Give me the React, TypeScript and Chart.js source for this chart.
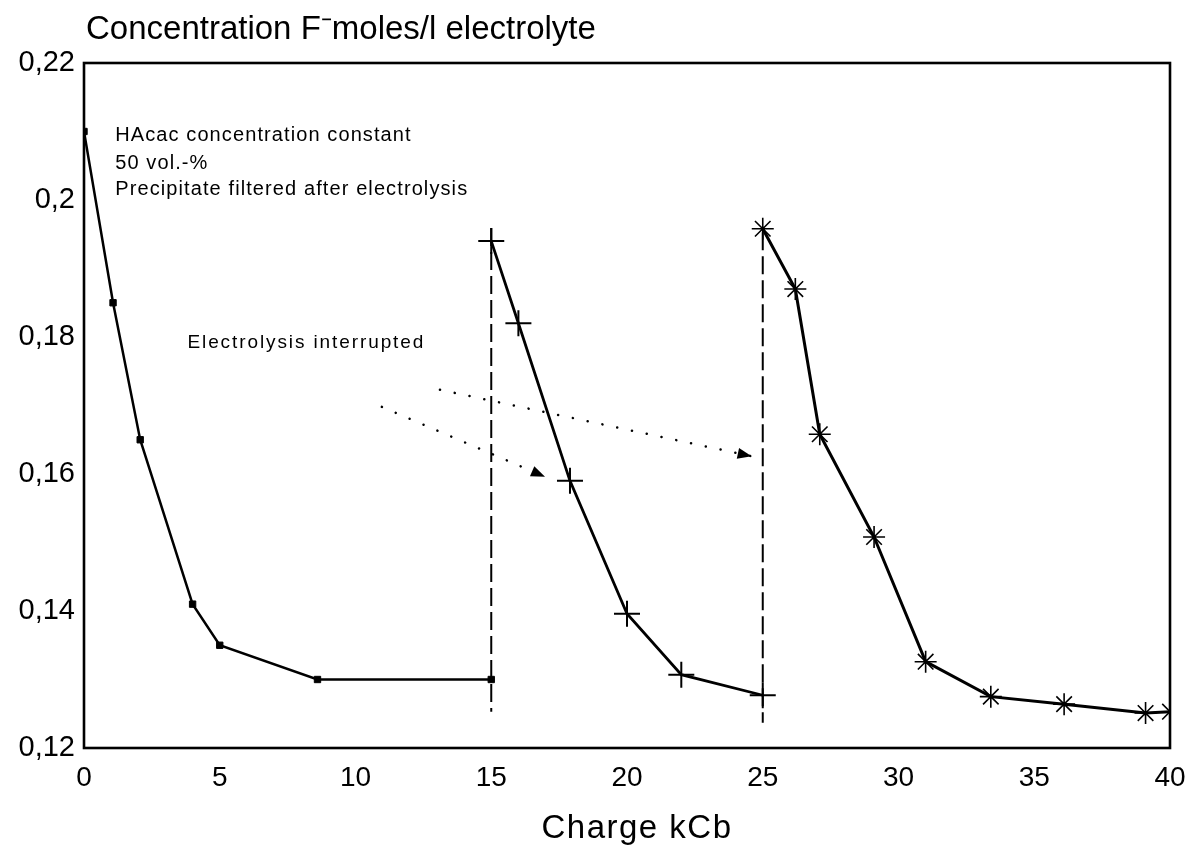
import React, { useEffect, useRef } from "react";
import { Chart, registerables } from "chart.js";

Chart.register(...registerables);

// ---- text ----
const chartTitle = "Concentration F\u207Bmoles/l electrolyte";
const xAxisTitle = "Charge kCb";
const noteLines = [
  "HAcac concentration constant",
  "50 vol.-%",
  "Precipitate filtered after electrolysis",
];
const arrowLabel = "Electrolysis interrupted";

// ---- axes ----
const xMin = 0;
const xMax = 40;
const xStep = 5;
const yMin = 0.12;
const yMax = 0.22;
const yStep = 0.02;

// ---- data: run 1 (squares) ----
const run1Charge = [0, 1.07, 2.07, 4.0, 5.0, 8.6, 15.0];
const run1Conc = [0.21, 0.185, 0.165, 0.141, 0.135, 0.13, 0.13];

// ---- data: run 2 (plus) ----
const run2Charge = [15.0, 16.0, 17.9, 20.0, 22.0, 25.0];
const run2Conc = [0.194, 0.182, 0.159, 0.1396, 0.1307, 0.1277];

// ---- data: run 3 (asterisk) ----
const run3Charge = [25.0, 26.2, 27.1, 29.1, 31.0, 33.4, 36.1, 39.1, 40.0];
const run3Conc = [0.1958, 0.187, 0.1658, 0.1508, 0.1326, 0.1275, 0.1264, 0.1251, 0.1253];

// ---- interruption markers (dashed verticals) ----
const interruptCharge = [15, 25];
const interruptTop = [0.1959, 0.1953];
const interruptBottom = [0.1253, 0.1237];

// ---- dotted arrows ----
const arrowStartCharge = [13.11, 10.97];
const arrowStartConc = [0.1723, 0.1698];
const arrowTipCharge = [24.59, 16.98];
const arrowTipConc = [0.1626, 0.1596];

// ---- annotation anchors ----
const noteCharge = 1.15;
const noteConc = [0.2094, 0.2054, 0.2015];
const arrowLabelCharge = 3.81;
const arrowLabelConc = 0.1791;

const FONT = '"Liberation Sans", Arial, Helvetica, sans-serif';

const pts = (xs: number[], ys: number[]) => xs.map((x, i) => ({ x, y: ys[i] }));

const overlayPlugin = {
  id: "overlay",
  afterDatasetsDraw(chart: any) {
    const { ctx, chartArea: a, scales } = chart;
    const xs = scales.x;
    const ys = scales.y;
    ctx.save();
    // frame
    ctx.strokeStyle = "#000";
    ctx.lineWidth = 2.6;
    ctx.strokeRect(a.left, a.top, a.right - a.left, a.bottom - a.top);

    // arrowheads
    ctx.fillStyle = "#000";
    for (let i = 0; i < arrowTipCharge.length; i++) {
      const x0 = xs.getPixelForValue(arrowStartCharge[i]);
      const y0 = ys.getPixelForValue(arrowStartConc[i]);
      const x1 = xs.getPixelForValue(arrowTipCharge[i]);
      const y1 = ys.getPixelForValue(arrowTipConc[i]);
      const ang = Math.atan2(y1 - y0, x1 - x0);
      const len = 14;
      const hw = 5.5;
      ctx.beginPath();
      ctx.moveTo(x1, y1);
      ctx.lineTo(
        x1 - len * Math.cos(ang) + hw * Math.sin(ang),
        y1 - len * Math.sin(ang) - hw * Math.cos(ang)
      );
      ctx.lineTo(
        x1 - len * Math.cos(ang) - hw * Math.sin(ang),
        y1 - len * Math.sin(ang) + hw * Math.cos(ang)
      );
      ctx.closePath();
      ctx.fill();
    }

    // texts
    ctx.fillStyle = "#000";
    ctx.textBaseline = "middle";
    ctx.textAlign = "left";
    (ctx as any).letterSpacing = "1.1px";
    ctx.font = `20px ${FONT}`;
    noteLines.forEach((t, i) => {
      ctx.fillText(t, xs.getPixelForValue(noteCharge), ys.getPixelForValue(noteConc[i]));
    });
    (ctx as any).letterSpacing = "1.9px";
    ctx.font = `19px ${FONT}`;
    ctx.fillText(arrowLabel, xs.getPixelForValue(arrowLabelCharge), ys.getPixelForValue(arrowLabelConc));

    (ctx as any).letterSpacing = "0px";
    ctx.font = `33px ${FONT}`;
    ctx.fillText(chartTitle, a.left + 2, a.top - 33);

    ctx.textAlign = "center";
    (ctx as any).letterSpacing = "1.5px";
    ctx.font = `33px ${FONT}`;
    ctx.fillText(xAxisTitle, (a.left + a.right) / 2 + 10, a.bottom + 81);
    ctx.restore();
  },
};

export default function App() {
  const ref = useRef<HTMLCanvasElement | null>(null);
  useEffect(() => {
    if (!ref.current) return;
    const black = "#000";
    const datasets: any[] = [
      {
        data: pts(run1Charge, run1Conc),
        borderColor: black,
        backgroundColor: black,
        borderWidth: 2.5,
        pointStyle: "rect",
        pointRadius: 4.5,
        pointBorderWidth: 1,
      },
      {
        data: pts(run2Charge, run2Conc),
        borderColor: black,
        backgroundColor: black,
        borderWidth: 2.8,
        pointStyle: "cross",
        pointRadius: 13,
        pointBorderWidth: 2,
      },
      {
        data: pts(run3Charge, run3Conc),
        borderColor: black,
        backgroundColor: black,
        borderWidth: 3,
        pointStyle: "star",
        pointRadius: 11,
        pointBorderWidth: 1.6,
      },
    ];
    interruptCharge.forEach((c, i) => {
      datasets.push({
        data: [
          { x: c, y: interruptTop[i] },
          { x: c, y: interruptBottom[i] },
        ],
        borderColor: black,
        borderWidth: 2,
        borderDash: [18, 6],
        pointRadius: 0,
      });
    });
    arrowTipCharge.forEach((c, i) => {
      datasets.push({
        data: [
          { x: arrowStartCharge[i], y: arrowStartConc[i] },
          { x: c, y: arrowTipConc[i] },
        ],
        borderColor: black,
        borderWidth: 2.5,
        borderCapStyle: "round",
        borderDash: [0.1, 15],
        pointRadius: 0,
      });
    });

    const chart = new Chart(ref.current, {
      type: "line",
      data: { datasets },
      options: {
        animation: false,
        responsive: false,
        devicePixelRatio: 1,
        events: [],
        layout: { padding: { left: 0, top: 63, right: 22, bottom: 0 } },
        plugins: { legend: { display: false }, tooltip: { enabled: false } },
        elements: { line: { tension: 0 } },
        scales: {
          x: {
            type: "linear",
            min: xMin,
            max: xMax,
            grid: { display: false, drawTicks: true, tickLength: 7 },
            border: { display: false },
            ticks: {
              stepSize: xStep,
              color: black,
              padding: 6,
              font: { family: FONT, size: 28 },
            },
            afterFit: (s: any) => {
              s.height = 102;
            },
          },
          y: {
            type: "linear",
            min: yMin,
            max: yMax,
            grid: { display: false, drawTicks: false },
            border: { display: false },
            ticks: {
              stepSize: yStep,
              color: black,
              padding: 9,
              font: { family: FONT, size: 29 },
              callback: (v: any) => String(Math.round(Number(v) * 100) / 100).replace(".", ","),
            },
            afterFit: (s: any) => {
              s.width = 84;
            },
          },
        },
      },
      plugins: [overlayPlugin],
    });
    return () => chart.destroy();
  }, []);

  return (
    <div style={{ position: "fixed", left: 0, top: 0, width: 1192, height: 850, background: "#fff" }}>
      <canvas ref={ref} width={1192} height={850} style={{ display: "block" }} />
    </div>
  );
}
